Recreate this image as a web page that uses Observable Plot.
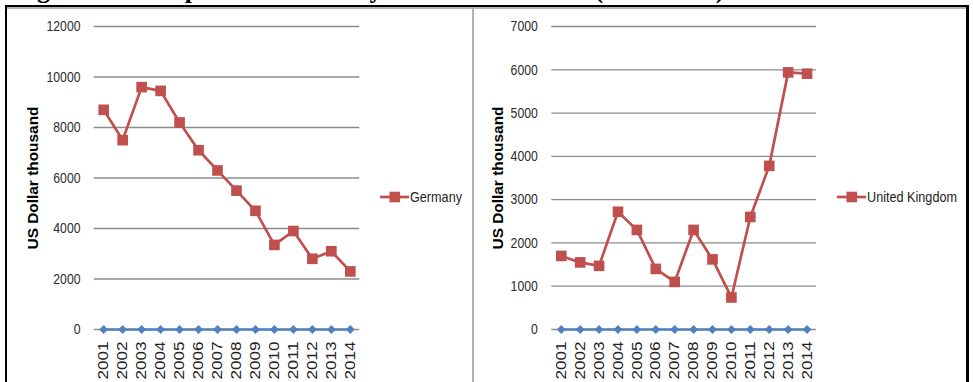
<!DOCTYPE html>
<html>
<head>
<meta charset="utf-8">
<script src="https://cdn.jsdelivr.net/npm/d3@7"></script>
<script src="https://cdn.jsdelivr.net/npm/@observablehq/plot@0.6"></script>
<style>
  html, body { margin: 0; padding: 0; background: #fff; }
  #wrap { position: relative; width: 973px; height: 382px; overflow: hidden; background: #fff; }
  #title { position: absolute; left: 14px; top: -23.5px; font: bold 26px/26px "Liberation Serif", serif; white-space: nowrap; color: #000; }
  .bar { position: absolute; background: #000; }
  .thin { position: absolute; background: #b4b4b4; }
  .panel { position: absolute; top: 0; }
</style>
</head>
<body>
<div id="wrap">
  <div id="title">Figure 4.12: Exports to Germany and Great Britain (2001-2014) in Thousand US$</div>
  <div class="thin" style="left:7px; top:7px; width:959px; height:1.5px;"></div>
  <div class="thin" style="left:472px; top:7px; width:1.6px; height:375px;"></div>
  <div id="left" class="panel" style="left:0px;"></div>
  <div id="right" class="panel" style="left:473px;"></div>
  <div class="bar" style="left:5px; top:5px; width:964px; height:2.4px;"></div>
  <div class="bar" style="left:5px; top:5px; width:2.2px; height:377px;"></div>
  <div class="bar" style="left:966px; top:5px; width:3px; height:377px;"></div>
</div>
<script>
const years = ["2001","2002","2003","2004","2005","2006","2007","2008","2009","2010","2011","2012","2013","2014"];
const germany = [8700, 7500, 9600, 9450, 8200, 7100, 6300, 5500, 4700, 3350, 3900, 2800, 3100, 2300];
const germanyOther = [0,0,0,0,0,0,0,0,0,0,0,0,0,0];
const unitedKingdom = [1700, 1550, 1470, 2720, 2300, 1400, 1100, 2300, 1620, 740, 2600, 3780, 5940, 5910];
const unitedKingdomOther = [0,0,0,0,0,0,0,0,0,0,0,0,0,0];
const germanyTicks = [0, 2000, 4000, 6000, 8000, 10000, 12000];
const ukTicks = [0, 1000, 2000, 3000, 4000, 5000, 6000, 7000];
const yTitle = "US Dollar thousand";
const germanyName = "Germany";
const ukName = "United Kingdom";

const RED = "#C0504D";
const BLUE = "#4F81BD";
const GRID = "#8c8c8c";

const yearNums = years.map(Number);

function panel(opts) {
  const main = years.map((y, i) => ({year: +y, value: opts.values[i]}));
  const other = years.map((y, i) => ({year: +y, value: opts.other[i]}));
  const svg = Plot.plot({
    width: opts.width,
    height: 382,
    marginLeft: opts.marginLeft,
    marginRight: opts.marginRight,
    marginTop: 26,
    marginBottom: 53,
    style: {background: "transparent", fontFamily: "'Liberation Sans', Arial, sans-serif", overflow: "visible"},
    x: {type: "linear", domain: [yearNums[0] - 0.5, yearNums[yearNums.length - 1] + 0.5], label: null},
    y: {domain: [0, opts.ticks[opts.ticks.length - 1]], label: null},
    marks: [
      Plot.ruleY(opts.ticks, {stroke: GRID, strokeWidth: 1.3}),
      Plot.axisY({ticks: opts.ticks, tickSize: 0, tickPadding: opts.tickPad, line: true, stroke: GRID, fill: "#2a2a2a", fontSize: 15, label: null, tickFormat: d => String(d)}),
      Plot.axisX({ticks: yearNums, tickSize: 0, tickRotate: -90, tickPadding: 12, fill: "#222", fontSize: 14.5, label: null, tickFormat: d => years[yearNums.indexOf(d)]}),
      Plot.text([yTitle], {text: d => d, frameAnchor: "left", textAnchor: "middle", rotate: -90, dx: opts.titleDx, fontWeight: "bold", fontSize: 14, fill: "#000"}),
      Plot.line(other, {x: "year", y: "value", stroke: BLUE, strokeWidth: 2.6}),
      Plot.dot(other, {x: "year", y: "value", symbol: "diamond2", r: 4, fill: BLUE, stroke: "none"}),
      Plot.line(main, {x: "year", y: "value", stroke: RED, strokeWidth: 2.7}),
      Plot.dot(main, {x: "year", y: "value", symbol: "square", r: 6, fill: RED, stroke: "none"})
    ]
  });
  d3.select(svg).selectAll('[aria-label="y-axis tick label"] text').each(function() {
    const t = this.textContent;
    d3.select(this).attr("textLength", t.length * 6.8).attr("lengthAdjust", "spacingAndGlyphs");
  });
  d3.select(svg).selectAll('[aria-label="x-axis tick label"] text').each(function() {
    d3.select(this).attr("textLength", 38).attr("lengthAdjust", "spacingAndGlyphs");
  });
  d3.select(svg).selectAll('[aria-label="text"] text').attr("textLength", 143).attr("lengthAdjust", "spacingAndGlyphs");
  return svg;
}

function legend(name, x, y, textLen) {
  const w = textLen + 40;
  const s = d3.create("svg").attr("width", w).attr("height", 20)
    .style("position", "absolute").style("left", x + "px").style("top", (y - 10) + "px").style("overflow", "visible");
  s.append("line").attr("x1", 0).attr("x2", 29).attr("y1", 10).attr("y2", 10).attr("stroke", RED).attr("stroke-width", 2.7);
  s.append("rect").attr("x", 9.5).attr("y", 4.7).attr("width", 10.6).attr("height", 10.6).attr("fill", RED);
  s.append("text").attr("x", 30).attr("y", 10).attr("dy", "0.35em")
    .attr("font-family", "'Liberation Sans', Arial, sans-serif").attr("font-size", 14.5).attr("fill", "#222")
    .attr("textLength", textLen).attr("lengthAdjust", "spacingAndGlyphs").text(name);
  return s.node();
}

document.getElementById("left").appendChild(panel({
  width: 473, marginLeft: 93.7, marginRight: 113.7, values: germany, other: germanyOther,
  ticks: germanyTicks, tickPad: 13.7, titleDx: -60.7
}));
document.getElementById("right").appendChild(panel({
  width: 500, marginLeft: 78.3, marginRight: 157, values: unitedKingdom, other: unitedKingdomOther,
  ticks: ukTicks, tickPad: 14, titleDx: -53
}));
const wrap = document.getElementById("wrap");
wrap.appendChild(legend(germanyName, 380, 197, 52));
wrap.appendChild(legend(ukName, 837, 197, 90));
</script>
</body>
</html>
